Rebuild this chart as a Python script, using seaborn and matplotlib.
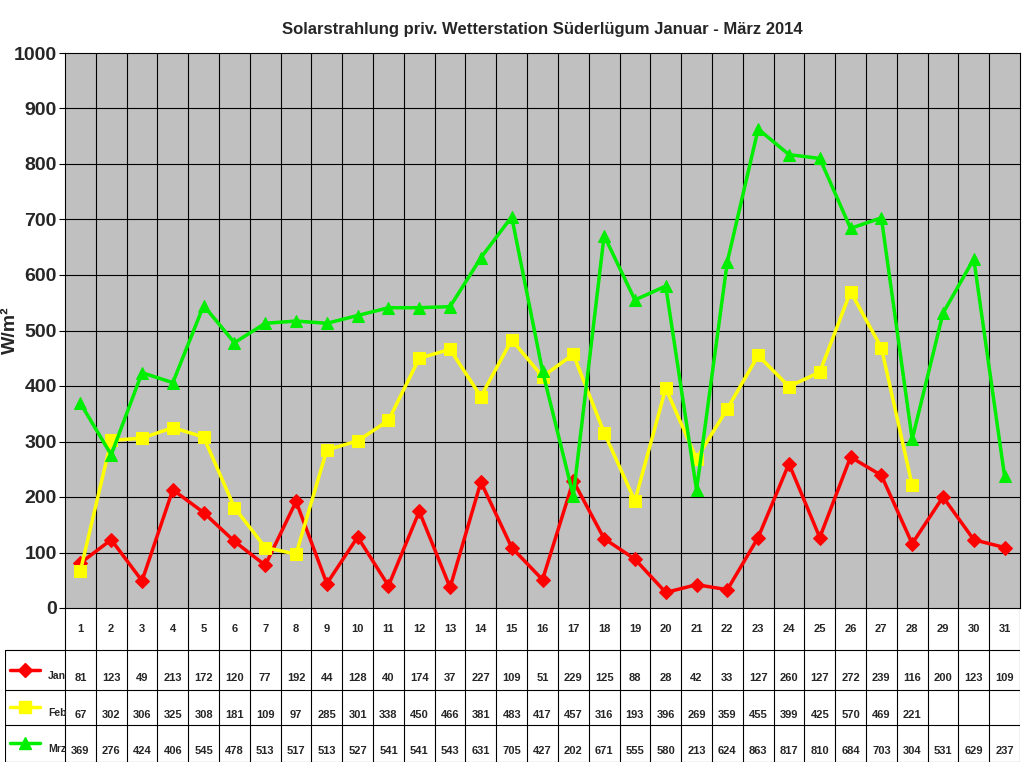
import numpy as np
import pandas as pd
import matplotlib
matplotlib.use("Agg")
import matplotlib.pyplot as plt
import seaborn as sns

days = list(range(1, 32))
jan = [81, 123, 49, 213, 172, 120, 77, 192, 44, 128, 40, 174, 37, 227, 109, 51,
       229, 125, 88, 28, 42, 33, 127, 260, 127, 272, 239, 116, 200, 123, 109]
feb = [67, 302, 306, 325, 308, 181, 109, 97, 285, 301, 338, 450, 466, 381, 483, 417,
       457, 316, 193, 396, 269, 359, 455, 399, 425, 570, 469, 221]
mrz = [369, 276, 424, 406, 545, 478, 513, 517, 513, 527, 541, 541, 543, 631, 705, 427,
       202, 671, 555, 580, 213, 624, 863, 817, 810, 684, 703, 304, 531, 629, 237]

series = [("Jan", jan, "#FF0000", "D", 7), ("Feb", feb, "#FFFF00", "s", 8), ("Mrz", mrz, "#00EE00", "^", 9)]

sns.set_style("white")
plt.rcParams["font.family"] = ["Liberation Sans", "DejaVu Sans"]

fig = plt.figure(figsize=(10.24, 7.68), dpi=100)
W, H = 1024, 768
ax = fig.add_axes([65 / W, 1 - 608 / H, 955 / W, 555 / H])
ax.set_facecolor("#C0C0C0")

rows = []
for name, vals, col, mk, ms in series:
    for d, v in zip(days, vals):
        rows.append({"pos": d - 1, "val": v, "Monat": name})
df = pd.DataFrame(rows)
for name, vals, col, mk, ms in series:
    sns.lineplot(data=df[df["Monat"] == name], x="pos", y="val", ax=ax, color=col,
                 marker=mk, markersize=ms, markeredgecolor=col, linewidth=2.5, legend=False)

ax.set_xlim(-0.5, 30.5)
ax.set_ylim(0, 1000)
ax.set_yticks(range(0, 1001, 100))
ax.set_yticklabels([str(t) for t in range(0, 1001, 100)], fontsize=14, fontweight="bold")
ax.set_xticks([])
ax.set_xlabel("")
ax.set_ylabel("W/m²", fontsize=14, fontweight="bold")
ax.yaxis.set_label_coords(-0.048, 0.5)
for x in np.arange(0.5, 30.5, 1):
    ax.axvline(x, color="black", lw=0.8, zorder=0)
for y in range(100, 1000, 100):
    ax.axhline(y, color="black", lw=0.8, zorder=0)
for s in ax.spines.values():
    s.set_color("black")
ax.tick_params(axis="y", length=4, color="black", left=True, pad=2)
ax.set_title("Solarstrahlung priv. Wetterstation Süderlügum Januar - März 2014",
             fontsize=12, fontweight="bold", pad=14)

# table
cw = 955 / 31
tab = fig.add_axes([5 / W, 1 - 762 / H, 1015 / W, 154 / H])
left = -0.5 - 60 / cw
tab.set_xlim(left, 30.5)
tab.set_ylim(762, 608)
tab.axis("off")
bounds = [608, 650, 690, 725, 762]
for y in bounds[1:]:
    tab.plot([left, 30.5], [y, y], color="black", lw=0.8)
tab.plot([left, left], [650, 762], color="black", lw=0.8)
for x in np.arange(-0.5, 31, 1):
    tab.plot([x, x], [608, 762], color="black", lw=0.8)
for i, d in enumerate(days):
    tab.text(i, 629, str(d), ha="center", va="center", fontsize=8, fontweight="bold")
for r, (name, vals, col, mk, ms) in enumerate(series):
    yc = (bounds[r + 1] + bounds[r + 2]) / 2
    for i, v in enumerate(vals):
        tab.text(i, yc + 8, str(v), ha="center", va="center", fontsize=8, fontweight="bold")
    lx = [left + 0.15, left + 1.15]
    tab.plot(lx, [yc, yc], color=col, lw=2.5)
    tab.plot([np.mean(lx)], [yc], marker=mk, color=col, markersize=ms)
    tab.text(left + 1.4, yc + 6, name, ha="left", va="center", fontsize=7.5, fontweight="bold")

fig.savefig("out.png", dpi=100)
